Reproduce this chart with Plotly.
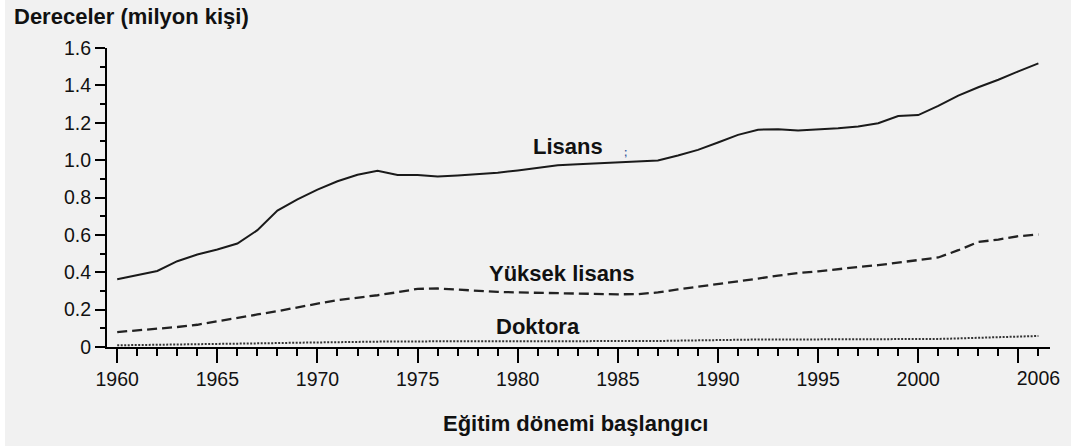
import plotly.graph_objects as go

years = list(range(1960, 2007))

lisans = [0.363, 0.384, 0.407, 0.459, 0.495, 0.522, 0.554, 0.625, 0.730, 0.790,
          0.842, 0.887, 0.922, 0.943, 0.920, 0.920, 0.912, 0.918, 0.925, 0.933,
          0.945, 0.960, 0.973, 0.978, 0.984, 0.990, 0.993, 0.998, 1.025, 1.055,
          1.094, 1.135, 1.163, 1.165, 1.158, 1.163, 1.170, 1.180, 1.197, 1.236,
          1.241, 1.290, 1.345, 1.390, 1.430, 1.475, 1.518]

yuksek_lisans = [0.080, 0.088, 0.096, 0.107, 0.119, 0.136, 0.155, 0.174, 0.192, 0.210,
                 0.232, 0.251, 0.263, 0.277, 0.293, 0.311, 0.313, 0.306, 0.298, 0.295,
                 0.292, 0.290, 0.286, 0.284, 0.282, 0.282, 0.283, 0.292, 0.308, 0.322,
                 0.335, 0.350, 0.366, 0.382, 0.396, 0.405, 0.418, 0.428, 0.438, 0.452,
                 0.464, 0.479, 0.518, 0.562, 0.575, 0.593, 0.602]

doktora = [0.009, 0.010, 0.011, 0.012, 0.013, 0.015, 0.017, 0.019, 0.021, 0.023,
           0.025, 0.027, 0.029, 0.030, 0.030, 0.030, 0.030, 0.029, 0.029, 0.029,
           0.029, 0.029, 0.029, 0.030, 0.030, 0.030, 0.031, 0.032, 0.034, 0.036,
           0.038, 0.039, 0.040, 0.040, 0.040, 0.040, 0.041, 0.041, 0.041, 0.041,
           0.041, 0.043, 0.046, 0.050, 0.053, 0.056, 0.059]

x_major_ticks = [1960, 1965, 1970, 1975, 1980, 1985, 1990, 1995, 2000, 2005]
x_major_labels = ["1960", "1965", "1970", "1975", "1980", "1985", "1990", "1995", "2000", ""]
x_end_tick = [2006]
x_end_label = ["2006"]
y_ticks = [0, 0.2, 0.4, 0.6, 0.8, 1.0, 1.2, 1.4, 1.6]
y_labels = ["0", "0.2", "0.4", "0.6", "0.8", "1.0", "1.2", "1.4", "1.6"]

series_labels = ["Lisans", "Yüksek lisans", "Doktora"]
label_x = [1982.5, 1982.2, 1981.0]
label_y = [1.075, 0.396, 0.111]

y_title = "Dereceler (milyon kişi)"
x_title = "Eğitim dönemi başlangıcı"

BG = "#f1f1f1"
INK = "#111111"
FONT = "Liberation Sans, Arial, sans-serif"

fig = go.Figure()
fig.add_trace(go.Scatter(x=years, y=lisans, mode="lines",
                         line=dict(color="#1a1a1a", width=2), showlegend=False))
fig.add_trace(go.Scatter(x=years, y=yuksek_lisans, mode="lines",
                         line=dict(color="#222222", width=2.3, dash="10px,5px"), showlegend=False))
fig.add_trace(go.Scatter(x=years, y=doktora, mode="lines",
                         line=dict(color="#333333", width=2, dash="2px,1.5px"), showlegend=False))
# invisible trace to activate the secondary x axis carrying the end label
fig.add_trace(go.Scatter(x=[years[-1]], y=[doktora[-1]], xaxis="x2", mode="markers",
                         marker=dict(opacity=0), showlegend=False, hoverinfo="skip"))

xr = [1959.49, 2006.58]
fig.update_layout(
    width=1071, height=446,
    margin=dict(l=107, r=21, t=48, b=99),
    paper_bgcolor=BG, plot_bgcolor=BG,
    font=dict(family=FONT, color=INK),
    xaxis=dict(range=xr, showgrid=False, zeroline=False, automargin=False,
               showline=True, linecolor="black", linewidth=2,
               tickmode="array", tickvals=x_major_ticks, ticktext=x_major_labels,
               ticks="outside", ticklen=14, tickwidth=1.8, tickcolor="black",
               tickfont=dict(size=19.5, family=FONT, color=INK),
               minor=dict(dtick=1, tick0=1960, ticks="outside", ticklen=7,
                          tickwidth=1.5, tickcolor="black", showgrid=False)),
    xaxis2=dict(range=xr, overlaying="x", side="bottom", anchor="y", automargin=False,
                showgrid=False, zeroline=False, showline=False,
                tickmode="array", tickvals=x_end_tick, ticktext=x_end_label,
                ticks="outside", ticklen=14, tickcolor="rgba(0,0,0,0)",
                tickfont=dict(size=19.5, family=FONT, color=INK)),
    yaxis=dict(range=[0, 1.6], showgrid=False, zeroline=False, automargin=False,
               showline=True, linecolor="black", linewidth=2,
               tickmode="array", tickvals=y_ticks, ticktext=y_labels,
               ticks="outside", ticklen=10, tickwidth=1.8, tickcolor="black",
               tickfont=dict(size=19.5, family=FONT, color=INK),
               minor=dict(dtick=0.1, tick0=0, ticks="outside", ticklen=5,
                          tickwidth=1.5, tickcolor="black", showgrid=False)),
)

for t, x, y in zip(series_labels, label_x, label_y):
    fig.add_annotation(x=x, y=y, xref="x", yref="y", text="<b>%s</b>" % t,
                       showarrow=False, font=dict(size=22, family=FONT, color=INK),
                       xanchor="center", yanchor="middle")

fig.add_annotation(x=1985.4, y=1.043, xref="x", yref="y", text="<b>;</b>",
                   showarrow=False, font=dict(size=10, family=FONT, color="#3a5a9a"))

fig.add_annotation(xref="paper", yref="paper", x=(12 - 107) / 943, y=(346.7 - 17) / 298.7,
                   text="<b>%s</b>" % y_title, showarrow=False, xanchor="left", yanchor="middle",
                   font=dict(size=22, family=FONT, color=INK))
fig.add_annotation(xref="paper", yref="paper", x=(575 - 107) / 943, y=(346.7 - 423) / 298.7,
                   text="<b>%s</b>" % x_title, showarrow=False, xanchor="center", yanchor="middle",
                   font=dict(size=22, family=FONT, color=INK))

fig.add_shape(type="rect", xref="paper", yref="paper",
              x0=-107 / 943, x1=-102 / 943, y0=-99 / 299, y1=1 + 48 / 299,
              fillcolor="white", line=dict(width=0), layer="below")

fig.write_html("out.html", config={"displayModeBar": False},
               post_script="document.body.style.margin='0';document.body.style.padding='0';")
